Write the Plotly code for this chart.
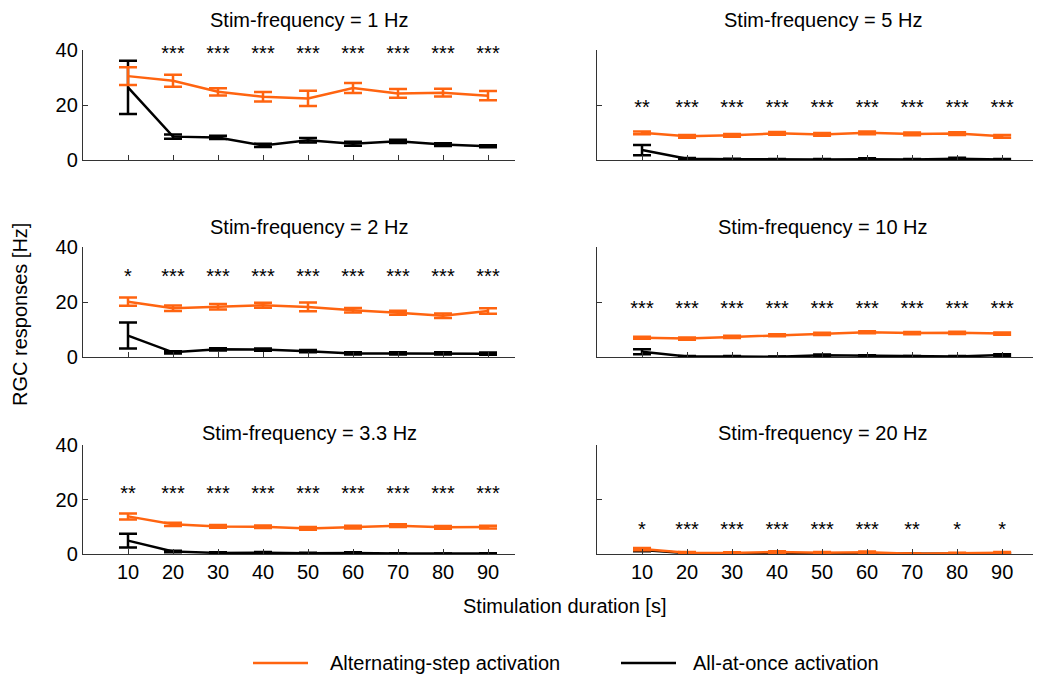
import plotly.graph_objects as go
from plotly.subplots import make_subplots

durations = [10, 20, 30, 40, 50, 60, 70, 80, 90]
tick_labels = ["10", "20", "30", "40", "50", "60", "70", "80", "90"]

freq_titles = ["Stim-frequency = 1 Hz", "Stim-frequency = 5 Hz",
               "Stim-frequency = 2 Hz", "Stim-frequency = 10 Hz",
               "Stim-frequency = 3.3 Hz", "Stim-frequency = 20 Hz"]

# Alternating-step activation (mean, sem) per panel
alt_1hz = [30.5, 28.8, 24.8, 23.0, 22.4, 26.2, 24.2, 24.5, 23.4]
alt_1hz_err = [3.2, 2.2, 1.3, 1.7, 2.8, 1.8, 1.6, 1.4, 1.7]
alt_5hz = [9.9, 8.6, 9.0, 9.7, 9.3, 9.9, 9.5, 9.6, 8.6]
alt_5hz_err = [0.5, 0.5, 0.5, 0.5, 0.5, 0.5, 0.5, 0.5, 0.5]
alt_2hz = [20.1, 17.7, 18.3, 18.8, 18.2, 17.0, 16.1, 15.0, 16.7]
alt_2hz_err = [1.5, 1.0, 1.0, 0.9, 1.6, 0.8, 0.7, 0.8, 1.0]
alt_10hz = [7.0, 6.7, 7.3, 7.9, 8.4, 9.0, 8.7, 8.8, 8.5]
alt_10hz_err = [0.4, 0.4, 0.4, 0.4, 0.4, 0.4, 0.4, 0.4, 0.4]
alt_3hz = [13.8, 10.9, 10.1, 10.0, 9.4, 9.9, 10.4, 9.8, 9.9]
alt_3hz_err = [1.1, 0.6, 0.5, 0.5, 0.5, 0.5, 0.5, 0.5, 0.5]
alt_20hz = [1.8, 0.5, 0.4, 0.7, 0.5, 0.6, 0.1, 0.3, 0.5]
alt_20hz_err = [0.4, 0.2, 0.2, 0.3, 0.2, 0.3, 0.1, 0.2, 0.2]

# All-at-once activation (mean, sem) per panel
all_1hz = [26.4, 8.5, 8.2, 5.3, 7.2, 5.9, 6.8, 5.6, 5.0]
all_1hz_err = [9.7, 0.8, 0.6, 0.6, 0.8, 0.7, 0.6, 0.5, 0.4]
all_5hz = [3.6, 0.5, 0.3, 0.2, 0.2, 0.3, 0.2, 0.5, 0.2]
all_5hz_err = [1.9, 0.2, 0.2, 0.2, 0.2, 0.3, 0.2, 0.3, 0.2]
all_2hz = [7.8, 1.7, 2.8, 2.7, 2.1, 1.3, 1.3, 1.3, 1.2]
all_2hz_err = [4.7, 0.4, 0.4, 0.4, 0.4, 0.4, 0.4, 0.4, 0.4]
all_10hz = [1.9, 0.2, 0.2, 0.1, 0.6, 0.4, 0.2, 0.2, 0.7]
all_10hz_err = [0.9, 0.2, 0.2, 0.1, 0.3, 0.2, 0.2, 0.2, 0.3]
all_3hz = [4.9, 0.9, 0.4, 0.5, 0.3, 0.4, 0.2, 0.1, 0.2]
all_3hz_err = [2.5, 0.3, 0.2, 0.2, 0.2, 0.2, 0.1, 0.1, 0.1]
all_20hz = [1.5, 0.3, 0.2, 0.3, 0.2, 0.3, 0.1, 0.2, 0.2]
all_20hz_err = [0.5, 0.1, 0.1, 0.1, 0.1, 0.1, 0.1, 0.1, 0.1]

# significance labels and their heights
sig_1hz = ["", "***", "***", "***", "***", "***", "***", "***", "***"]
sig_5hz = ["**", "***", "***", "***", "***", "***", "***", "***", "***"]
sig_2hz = ["*", "***", "***", "***", "***", "***", "***", "***", "***"]
sig_10hz = ["***", "***", "***", "***", "***", "***", "***", "***", "***"]
sig_3hz = ["**", "***", "***", "***", "***", "***", "***", "***", "***"]
sig_20hz = ["*", "***", "***", "***", "***", "***", "**", "*", "*"]
sig_heights = [38.1, 18.6, 28.8, 17.1, 21.6, 8.3]

legend_names = ["Alternating-step activation", "All-at-once activation"]

alt_means = [alt_1hz, alt_5hz, alt_2hz, alt_10hz, alt_3hz, alt_20hz]
alt_errs = [alt_1hz_err, alt_5hz_err, alt_2hz_err, alt_10hz_err, alt_3hz_err, alt_20hz_err]
all_means = [all_1hz, all_5hz, all_2hz, all_10hz, all_3hz, all_20hz]
all_errs = [all_1hz_err, all_5hz_err, all_2hz_err, all_10hz_err, all_3hz_err, all_20hz_err]
sigs = [sig_1hz, sig_5hz, sig_2hz, sig_10hz, sig_3hz, sig_20hz]

ORANGE = "#FF6410"
BLACK = "#000000"
FONT = "Liberation Sans, Arial, sans-serif"
FS = 20

# page body adds an 8px offset; size the figure so it fills the window
OFF = 8
W, H = 1041 - OFF, 677 - OFF


def px(X):
    return (X - OFF) / W


def py(Y):
    return 1 - (Y - OFF) / H


fig = make_subplots(rows=3, cols=2)

x_dom = [(px(83), px(515)), (px(597), px(1035))]
y_dom = [(py(160), py(50)), (py(357), py(247)), (py(554), py(445))]
title_y_px = [20, 227, 433]
title_x_px = [309, 823]

for i in range(6):
    r, c = i // 2 + 1, i % 2 + 1
    fig.add_trace(go.Scatter(
        x=durations, y=all_means[i], mode="lines",
        line=dict(color=BLACK, width=2.5),
        error_y=dict(type="data", array=all_errs[i], color=BLACK, thickness=2.5, width=9),
        name=legend_names[1], showlegend=False,
    ), row=r, col=c)
    fig.add_trace(go.Scatter(
        x=durations, y=alt_means[i], mode="lines",
        line=dict(color=ORANGE, width=2.5),
        error_y=dict(type="data", array=alt_errs[i], color=ORANGE, thickness=2.5, width=9),
        name=legend_names[0], showlegend=False,
    ), row=r, col=c)
    fig.add_trace(go.Scatter(
        x=durations, y=[sig_heights[i]] * len(durations), mode="text",
        text=sigs[i], textposition="middle center",
        textfont=dict(family=FONT, size=FS, color="#000"),
        showlegend=False, cliponaxis=False, hoverinfo="skip",
    ), row=r, col=c)

    idx = "" if i == 0 else str(i + 1)
    xd = x_dom[c - 1]
    yd = y_dom[r - 1]
    fig.update_layout(**{
        f"xaxis{idx}": dict(
            domain=list(xd), range=[0, 96.0 if c == 1 else 97.3],
            tickmode="array", tickvals=durations,
            ticktext=tick_labels if r == 3 else [""] * 9,
            ticks="inside", ticklen=5, tickwidth=1.2, tickcolor="#333",
            showline=True, linecolor="#333", linewidth=1.3,
            showgrid=False, zeroline=False,
            tickfont=dict(family=FONT, size=FS, color="#000"),
        ),
        f"yaxis{idx}": dict(
            domain=list(yd), range=[0, 40],
            tickmode="array", tickvals=[0, 20, 40],
            ticktext=["0", "20", "40"] if c == 1 else ["", "", ""],
            ticks="inside", ticklen=5, tickwidth=1.2, tickcolor="#333",
            showline=True, linecolor="#333", linewidth=1.3,
            showgrid=False, zeroline=False,
            tickfont=dict(family=FONT, size=FS, color="#000"),
        ),
    })
    fig.add_annotation(
        text=freq_titles[i], xref="paper", yref="paper",
        x=px(title_x_px[c - 1]), y=py(title_y_px[r - 1]),
        xanchor="center", yanchor="middle", showarrow=False,
        font=dict(family=FONT, size=FS, color="#000"),
    )

fig.add_annotation(
    text="RGC responses [Hz]", xref="paper", yref="paper",
    x=px(20), y=py(315), textangle=-90, showarrow=False,
    xanchor="center", yanchor="middle",
    font=dict(family=FONT, size=FS, color="#000"),
)
fig.add_annotation(
    text="Stimulation duration [s]", xref="paper", yref="paper",
    x=px(564), y=py(606), showarrow=False,
    xanchor="center", yanchor="middle",
    font=dict(family=FONT, size=FS, color="#000"),
)

# legend drawn as line samples + labels
legend_colors = [ORANGE, BLACK]
legend_line_px = [(253, 308), (621, 676)]
legend_text_px = [328, 691]
legend_y_px = 663
for name, col, (x0, x1), tx in zip(legend_names, legend_colors, legend_line_px, legend_text_px):
    fig.add_shape(type="line", xref="paper", yref="paper",
                  x0=px(x0), x1=px(x1), y0=py(legend_y_px), y1=py(legend_y_px),
                  line=dict(color=col, width=2.5))
    fig.add_annotation(text=name, xref="paper", yref="paper",
                       x=px(tx), y=py(legend_y_px), xanchor="left", yanchor="middle",
                       showarrow=False, font=dict(family=FONT, size=FS, color="#000"))

fig.update_layout(
    width=W, height=H,
    margin=dict(l=0, r=0, t=0, b=0, autoexpand=False),
    paper_bgcolor="white", plot_bgcolor="white",
    font=dict(family=FONT, size=FS, color="#000"),
    showlegend=False,
)

fig.write_html("out.html")
